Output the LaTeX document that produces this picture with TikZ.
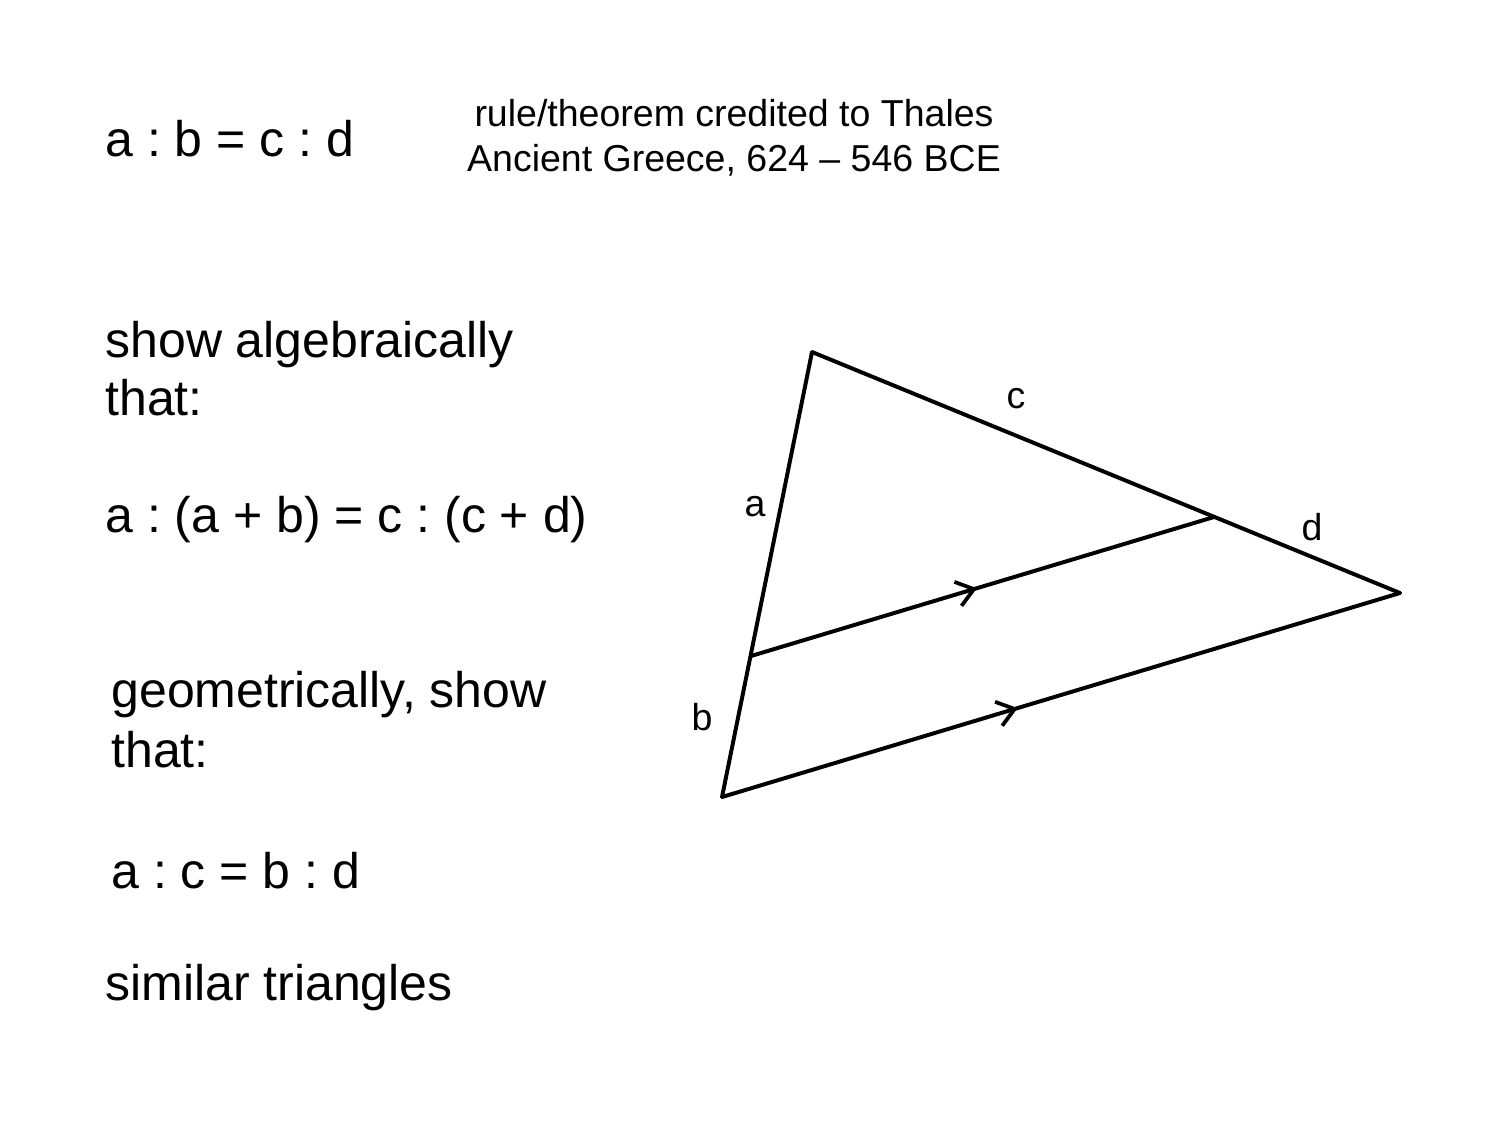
\documentclass[tikz,border=0pt]{standalone}
\usepackage{fontspec}
\setmainfont{Liberation Sans}
\usetikzlibrary{arrows.meta,decorations.markings}
\frenchspacing
\tikzset{
  big/.style={anchor=base west,inner sep=0pt,font=\frenchspacing\fontsize{24}{28}\selectfont},
  small/.style={anchor=base,inner sep=0pt,font=\frenchspacing\fontsize{18}{21.6}\selectfont},
  seg/.style={line width=1.9pt,line cap=round,line join=miter},
  barb/.style={postaction={decorate},decoration={markings,
     mark=at position #1 with {\arrow{Straight Barb[length=8pt,width=12pt,line width=1.8pt]}}}}
}
\begin{document}
\begin{tikzpicture}[x=0.48pt,y=-0.48pt]
\useasboundingbox[fill=white] (0,0) rectangle (1500,1125);
% texts
\node[big] (t1) at (105,156) {a : b = c : d};
\node[small] (h1) at (734,126) {rule/theorem credited to Thales};
\node[small] (h2) at (734,171) {Ancient Greece, 624 – 546 BCE};
\node[big] (t2) at (105,357) {show algebraically};
\node[big] (t3) at (105,415) {that:};
\node[big] (t4) at (105,532) {a : (a + b) = c : (c + d)};
\node[big] (t5) at (111,707) {geometrically, show};
\node[big] (t6) at (111,767) {that:};
\node[big] (t7) at (111,888) {a : c = b : d};
\node[big] (t8) at (105,1000) {similar triangles};
% triangle
\coordinate (T) at (812,352);
\coordinate (R) at (1400,593);
\coordinate (B) at (722,797);
\coordinate (P) at (751,656);
\coordinate (Q) at (1214,517);
\draw[seg] (T) -- (R);
\draw[seg] (T) -- (B);
\draw[seg,barb=0.436] (B) -- (R);
\draw[seg,barb=0.488] (P) -- (Q);
% labels
\node[small] (lc) at (1016,408) {c};
\node[small] (la) at (755,516) {a};
\node[small] (ld) at (1312,540) {d};
\node[small] (lb) at (702,730) {b};
\end{tikzpicture}
\end{document}
